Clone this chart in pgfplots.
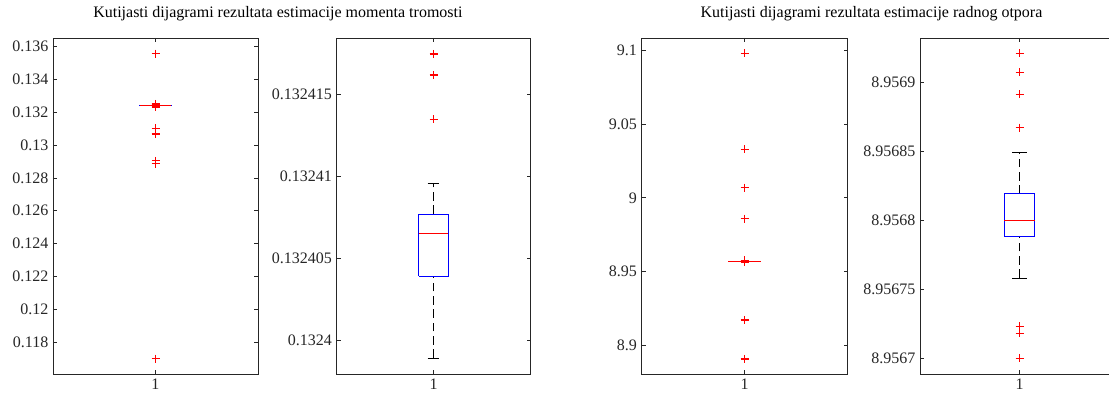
\documentclass[border=0pt]{standalone}
\usepackage{fontspec}
\setmainfont{Liberation Serif}
\usepackage{pgfplots}
\pgfplotsset{compat=1.18}
\definecolor{axgray}{RGB}{38,38,38}
\pgfplotsset{
  mybox/.style={
    scale only axis, height=252pt, anchor=south west,
    xmin=0.5, xmax=1.5, xtick={1}, xticklabels={1},
    tick align=inside, major tick length=3pt, tick pos=both,
    xticklabel pos=bottom, yticklabel pos=left,
    axis line style={axgray, line width=0.5pt},
    every tick/.style={axgray, line width=0.5pt},
    ticklabel style={font=\fontsize{12}{14}\selectfont, text=axgray},
    /pgf/number format/assume math mode=true,
    title style={font=\fontsize{12}{14}\selectfont, anchor=center, yshift=0pt},
  },
  boxst/.style={draw=blue, line width=0.7pt},
  medst/.style={draw=red, line width=0.7pt},
  whisk/.style={draw=black, line width=0.7pt, dash pattern=on 6.5pt off 3.5pt},
  capst/.style={draw=black, line width=0.7pt},
  outl/.style={only marks, mark=+, draw=red, mark size=3pt,
    mark options={draw=red, line width=1pt}},
}
\begin{document}
\begin{tikzpicture}
\path[use as bounding box] (0,0) rectangle (831.75pt,297pt);

% ---- Axis 1: moment of inertia, full view
\begin{axis}[mybox, width=153.75pt, at={(39.75pt,16.5pt)},
  ymin=0.11607, ymax=0.13651,
  ytick={0.118,0.12,0.122,0.124,0.126,0.128,0.13,0.132,0.134,0.136},
  yticklabels={0.118,0.12,0.122,0.124,0.126,0.128,0.13,0.132,0.134,0.136},
  title={Kutijasti dijagrami rezultata estimacije momenta tromosti},
  title style={at={(axis description cs:1.097,1.05)}},
]
\addplot[whisk] coordinates {(1,0.1324077) (1,0.1324096)};
\addplot[whisk] coordinates {(1,0.1323989) (1,0.1324039)};
\addplot[capst] coordinates {(0.97,0.1324096) (1.03,0.1324096)};
\addplot[capst] coordinates {(0.97,0.1323989) (1.03,0.1323989)};
\addplot[boxst] coordinates {(0.923,0.1324039) (1.077,0.1324039) (1.077,0.1324077) (0.923,0.1324077) (0.923,0.1324039)};
\addplot[medst] coordinates {(0.923,0.1324065) (1.077,0.1324065)};
\addplot[outl] coordinates {(1,0.13556) (1,0.13250) (1,0.13244) (1,0.13236) (1,0.13230)
  (1,0.1324175) (1,0.1324162) (1,0.1324135)
  (1,0.13101) (1,0.13068) (1,0.12904) (1,0.12886) (1,0.11700)};
\end{axis}

% ---- Axis 2: moment of inertia, zoomed
% values stored as (J - 0.1324) * 1e6 to keep TeX's arithmetic precise
\begin{axis}[mybox, width=145.5pt, at={(252.375pt,16.5pt)},
  ymin=-2.08, ymax=18.47,
  ytick={0,5,10,15},
  yticklabels={0.1324,0.132405,0.13241,0.132415},
]
\addplot[whisk] coordinates {(1,7.7) (1,9.6)};
\addplot[whisk] coordinates {(1,-1.1) (1,3.9)};
\addplot[capst] coordinates {(0.97,9.6) (1.03,9.6)};
\addplot[capst] coordinates {(0.97,-1.1) (1.03,-1.1)};
\addplot[boxst] coordinates {(0.925,3.9) (1.075,3.9) (1.075,7.7) (0.925,7.7) (0.925,3.9)};
\addplot[medst] coordinates {(0.925,6.5) (1.075,6.5)};
\addplot[outl] coordinates {(1,17.5) (1,16.2) (1,13.5)};
\end{axis}

% ---- Axis 3: resistance, full view
\begin{axis}[mybox, width=154.5pt, at={(481.125pt,16.5pt)},
  ymin=8.8803, ymax=9.1086,
  ytick={8.9,8.95,9,9.05,9.1},
  yticklabels={8.9,8.95,9,9.05,9.1},
  title={Kutijasti dijagrami rezultata estimacije radnog otpora},
  title style={at={(axis description cs:1.1165,1.05)}},
]
\addplot[whisk] coordinates {(1,8.95682) (1,8.95685)};
\addplot[whisk] coordinates {(1,8.95676) (1,8.95679)};
\addplot[capst] coordinates {(0.97,8.95685) (1.03,8.95685)};
\addplot[capst] coordinates {(0.97,8.95676) (1.03,8.95676)};
\addplot[boxst] coordinates {(0.922,8.95679) (1.078,8.95679) (1.078,8.95682) (0.922,8.95682) (0.922,8.95679)};
\addplot[medst] coordinates {(0.922,8.9568) (1.078,8.9568)};
\addplot[outl] coordinates {(1,9.0982) (1,9.0329) (1,9.0070) (1,8.9859) (1,8.9576) (1,8.9571) (1,8.9563)
  (1,8.9170) (1,8.8905)};
\end{axis}

% ---- Axis 4: resistance, zoomed
% values stored as (R - 8.9567) * 1e5 to keep TeX's arithmetic precise
\begin{axis}[mybox, width=149.25pt, at={(690pt,16.5pt)},
  ymin=-1.14, ymax=23.19,
  ytick={0,5,10,15,20},
  yticklabels={8.9567,8.95675,8.9568,8.95685,8.9569},
]
\addplot[whisk] coordinates {(1,11.9) (1,14.9)};
\addplot[whisk] coordinates {(1,5.8) (1,8.8)};
\addplot[capst] coordinates {(0.963,14.9) (1.037,14.9)};
\addplot[capst] coordinates {(0.963,5.8) (1.037,5.8)};
\addplot[boxst] coordinates {(0.924,8.8) (1.076,8.8) (1.076,11.9) (0.924,11.9) (0.924,8.8)};
\addplot[medst] coordinates {(0.924,10) (1.076,10)};
\addplot[outl] coordinates {(1,22.07) (1,20.7) (1,19.1) (1,16.7) (1,2.3) (1,1.8) (1,0)};
\end{axis}
\end{tikzpicture}
\end{document}
